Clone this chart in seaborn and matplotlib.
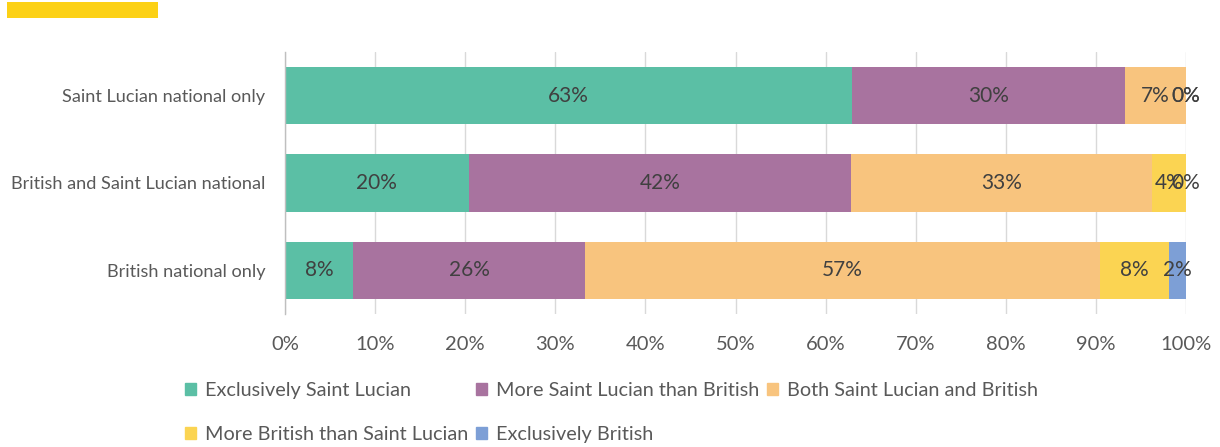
import matplotlib
matplotlib.use("Agg")
import matplotlib.pyplot as plt
import matplotlib.patches as mpatches
import seaborn as sns
import numpy as np
import pandas as pd

categories = ["Saint Lucian national only", "British and Saint Lucian national", "British national only"]
series_names = ["Exclusively Saint Lucian", "More Saint Lucian than British",
                "Both Saint Lucian and British", "More British than Saint Lucian",
                "Exclusively British"]
excl_sl = [62.9, 20.4, 7.6]
more_sl = [30.3, 42.4, 25.7]
both = [6.8, 33.4, 57.2]
more_br = [0.0, 3.8, 7.6]
excl_br = [0.0, 0.0, 1.9]
colors = ["#5bbfa5", "#a8739f", "#f8c47e", "#fbd452", "#7d9fd6"]
xtick_labels = ["0%", "10%", "20%", "30%", "40%", "50%", "60%", "70%", "80%", "90%", "100%"]

values = [excl_sl, more_sl, both, more_br, excl_br]

sns.set_theme(style="white")
plt.rcParams["font.family"] = ["Lato", "DejaVu Sans"]

fig = plt.figure(figsize=(12.2, 4.47), dpi=100)
ax = fig.add_axes([285 / 1220, 1 - 314 / 447, 901 / 1220, 262 / 447])

vals = np.array(values)
cums = np.cumsum(vals, axis=0)

# Draw cumulative bars from the largest down so they stack visually
for i in range(len(series_names) - 1, -1, -1):
    df = pd.DataFrame({"cat": categories, "val": cums[i]})
    sns.barplot(data=df, x="val", y="cat", order=categories, color=colors[i],
                width=0.66, ax=ax, saturation=1, zorder=3, linewidth=0)

# labels
for i in range(len(series_names)):
    for j in range(len(categories)):
        center = cums[i][j] - vals[i][j] / 2
        ax.text(center, j, f"{round(vals[i][j]):.0f}%", ha="center", va="center",
                fontsize=15, color="#404040", zorder=5)

ax.set_xlim(0, 100)
ax.set_ylim(2.5, -0.5)
ax.set_xticks(np.arange(0, 101, 10))
ax.set_xticklabels(xtick_labels)
ax.set_xlabel("")
ax.set_ylabel("")
ax.grid(axis="x", color="#d9d9d9", linewidth=1, zorder=0)
ax.set_axisbelow(True)
for s in ["top", "right", "bottom"]:
    ax.spines[s].set_visible(False)
ax.spines["left"].set_color("#bfbfbf")
ax.spines["left"].set_linewidth(1)
ax.spines["left"].set_zorder(4)
ax.tick_params(axis="x", length=0, pad=16, labelsize=14.5, labelcolor="#595959")
ax.tick_params(axis="y", length=0, pad=14, labelsize=13.1, labelcolor="#595959")

# legend
handles = [mpatches.Patch(color=c, label=n) for c, n in zip(colors, series_names)]
order = [0, 3, 1, 4, 2]
fig.legend([handles[k] for k in order], [series_names[k] for k in order],
           ncol=3, loc="upper left", bbox_to_anchor=(185 / 1220, 1 - 382 / 447),
           frameon=False, borderpad=0, borderaxespad=0, handlelength=0.55,
           handleheight=0.55, handletextpad=0.45, columnspacing=0.4,
           labelspacing=1.35, fontsize=14.3, labelcolor="#595959")

# header accent bar
fig.patches.append(mpatches.Rectangle((7 / 1220, 1 - 18 / 447), 151 / 1220, 16 / 447,
                                      transform=fig.transFigure, color="#fcd116",
                                      linewidth=0))

fig.savefig("out.png", dpi=100)
